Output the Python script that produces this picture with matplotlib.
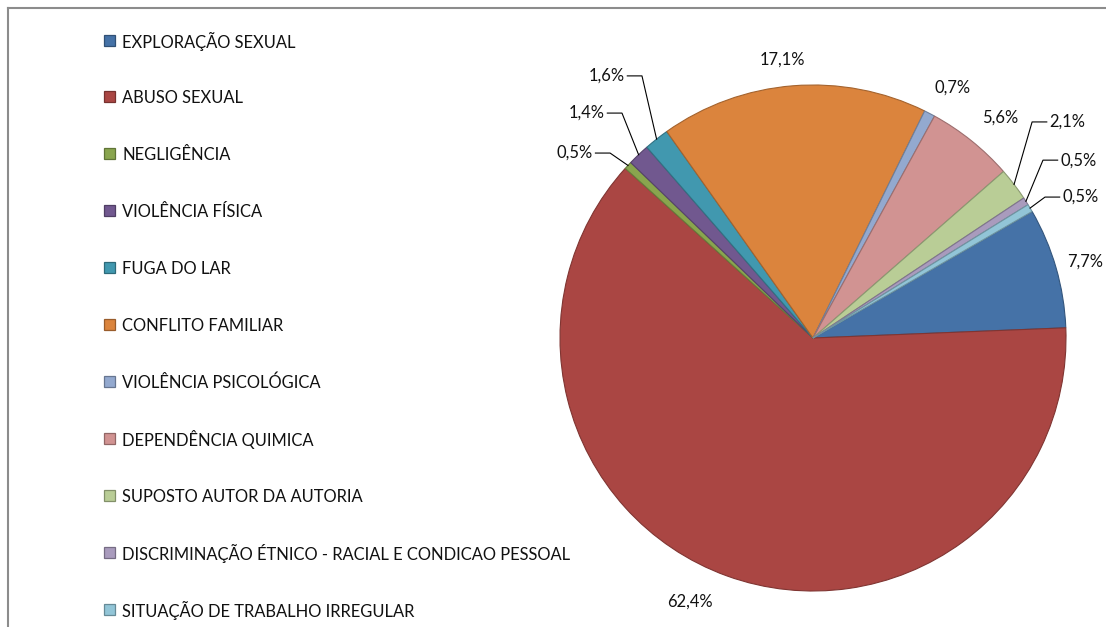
import matplotlib
matplotlib.use("Agg")
import matplotlib.pyplot as plt
from matplotlib.lines import Line2D
from matplotlib.patches import Rectangle
import matplotlib.colors as mcolors
import numpy as np

categorias = [
    "EXPLORAÇÃO SEXUAL",
    "ABUSO SEXUAL",
    "NEGLIGÊNCIA",
    "VIOLÊNCIA FÍSICA",
    "FUGA DO LAR",
    "CONFLITO FAMILIAR",
    "VIOLÊNCIA PSICOLÓGICA",
    "DEPENDÊNCIA QUIMICA",
    "SUPOSTO AUTOR DA AUTORIA",
    "DISCRIMINAÇÃO ÉTNICO - RACIAL E CONDICAO PESSOAL",
    "SITUAÇÃO DE TRABALHO IRREGULAR",
]
percentuais = [7.7, 62.4, 0.5, 1.4, 1.6, 17.1, 0.7, 5.6, 2.1, 0.5, 0.5]
rotulos = ["7,7%", "62,4%", "0,5%", "1,4%", "1,6%", "17,1%",
           "0,7%", "5,6%", "2,1%", "0,5%", "0,5%"]

cores = ["#4572A7", "#AA4643", "#89A54E", "#71588F", "#4198AF", "#DB843D",
         "#93A9CF", "#D19392", "#B9CD96", "#A99BBD", "#92C5D7"]

# label placement (data coords, pie radius = 1)
# plain labels: text centre; leader labels: knee of the leader line
pos_texto = {0: (1.075, 0.300), 1: (-0.486, -1.043), 5: (-0.119, 1.099),
             6: (0.553, 0.988), 7: (0.739, 0.870)}
pos_joelho = {2: (-0.802, 0.731), 3: (-0.755, 0.889), 4: (-0.676, 1.036),
              8: (0.866, 0.854), 9: (0.909, 0.703), 10: (0.917, 0.557)}

plt.rcParams["font.family"] = ["Lato", "DejaVu Sans"]
fs = 11.9

W, H = 1106, 627
fig = plt.figure(figsize=(W / 100, H / 100), dpi=100)
cx, cy, R = 813, 338, 253
ax = fig.add_axes([(cx - R) / W, (H - cy - R) / H, 2 * R / W, 2 * R / H])

def escurecer(c, f=0.8):
    r, g, b = mcolors.to_rgb(c)
    return (r * f, g * f, b * f)

wedges, _ = ax.pie(percentuais, colors=cores, startangle=30, counterclock=False,
                   radius=1, wedgeprops=dict(linewidth=0.8))
for w, c in zip(wedges, cores):
    w.set_edgecolor(escurecer(c, 0.75))
ax.set_xlim(-1, 1)
ax.set_ylim(-1, 1)
ax.set_aspect("equal")
ax.axis("off")

for i, w in enumerate(wedges):
    if i in pos_texto:
        x, y = pos_texto[i]
        ax.text(x, y, rotulos[i], ha="center", va="center", fontsize=fs,
                color="#111111", clip_on=False)
    else:
        ang = np.deg2rad((w.theta1 + w.theta2) / 2)
        ex, ey = np.cos(ang), np.sin(ang)
        kx, ky = pos_joelho[i]
        sinal = 1 if kx > 0 else -1
        hx = kx + sinal * 0.058
        ax.add_line(Line2D([ex, kx, hx], [ey, ky, ky], color="black",
                           linewidth=0.8, clip_on=False))
        ax.text(hx + sinal * 0.01, ky, rotulos[i], ha="left" if sinal > 0 else "right",
                va="center", fontsize=fs, color="#111111", clip_on=False)

# legend drawn row by row (even spacing like the original)
y0, passo, lado = 40, 56.9, 11
for i, (nome, c) in enumerate(zip(categorias, cores)):
    yc = y0 + passo * i
    fig.add_artist(Rectangle(((104) / W, 1 - (yc + lado / 2) / H), lado / W, lado / H,
                             facecolor=c, edgecolor=escurecer(c, 0.7), linewidth=0.9,
                             transform=fig.transFigure))
    fig.text(122 / W, 1 - yc / H, nome, ha="left", va="center_baseline",
             fontsize=fs, color="#111111")

# chart area border (top and left visible)
fig.add_artist(Line2D([7.5 / W, 1], [1 - 7.5 / H, 1 - 7.5 / H], color="#8c8c8c",
                      linewidth=1.5, transform=fig.transFigure))
fig.add_artist(Line2D([7.5 / W, 7.5 / W], [0, 1 - 7.5 / H], color="#8c8c8c",
                      linewidth=1.5, transform=fig.transFigure))

fig.savefig("out.png", dpi=100, facecolor="white")
